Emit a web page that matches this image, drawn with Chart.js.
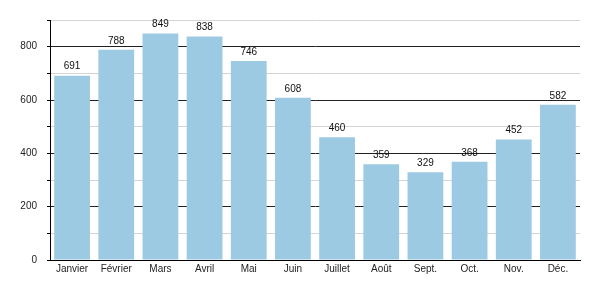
<!DOCTYPE html>
<html>
<head>
<meta charset="utf-8">
<script src="https://cdn.jsdelivr.net/npm/chart.js@4/dist/chart.umd.min.js"></script>
<style>
  html, body { margin: 0; padding: 0; background: #fff; }
  #wrap { width: 600px; height: 300px; }
</style>
</head>
<body>
<div id="wrap"><canvas id="chart"></canvas></div>
<script>
const months = ['Janvier', 'Février', 'Mars', 'Avril', 'Mai', 'Juin', 'Juillet', 'Août', 'Sept.', 'Oct.', 'Nov.', 'Déc.'];
const values = [691, 788, 849, 838, 746, 608, 460, 359, 329, 368, 452, 582];
const yMax = 900;
const yStep = 100;

const FONT = '"Liberation Sans", Arial, sans-serif';

// draws the number above each bar
const valueLabels = {
  id: 'valueLabels',
  afterDatasetsDraw(chart) {
    const { ctx } = chart;
    const meta = chart.getDatasetMeta(0);
    ctx.save();
    ctx.font = '10px ' + FONT;
    ctx.fillStyle = '#111';
    ctx.textAlign = 'center';
    ctx.textBaseline = 'middle';
    meta.data.forEach((bar, i) => {
      ctx.fillText(String(values[i]), bar.x, bar.y - 9);
    });
    ctx.restore();
  }
};

new Chart(document.getElementById('chart'), {
  type: 'bar',
  data: {
    labels: months,
    datasets: [{
      data: values,
      backgroundColor: '#9DCAE3',
      borderWidth: 0,
      barPercentage: 0.81,
      categoryPercentage: 1
    }]
  },
  options: {
    responsive: true,
    maintainAspectRatio: false,
    animation: false,
    layout: { padding: { top: 20, right: 20, left: 0, bottom: 0 } },
    plugins: {
      legend: { display: false },
      tooltip: { enabled: false }
    },
    scales: {
      x: {
        afterFit: (scale) => { scale.height = 40; },
        grid: { display: false, drawTicks: false },
        border: { display: true, color: '#000', width: 1 },
        ticks: {
          color: '#222',
          padding: 3,
          maxRotation: 0,
          autoSkip: false,
          font: { family: FONT, size: 10 }
        }
      },
      y: {
        min: 0,
        max: yMax,
        afterFit: (scale) => { scale.width = 50; },
        border: { display: true, color: '#000', width: 1 },
        grid: {
          color: (c) => (c.tick && c.tick.value % 200 === 0 ? '#222' : '#d4d4d4'),
          tickColor: '#000',
          tickLength: 3
        },
        ticks: {
          stepSize: yStep,
          color: '#222',
          padding: 10,
          font: { family: FONT, size: 10 },
          callback: (v) => (v % 200 === 0 ? v : '')
        }
      }
    }
  },
  plugins: [valueLabels]
});
</script>
</body>
</html>
